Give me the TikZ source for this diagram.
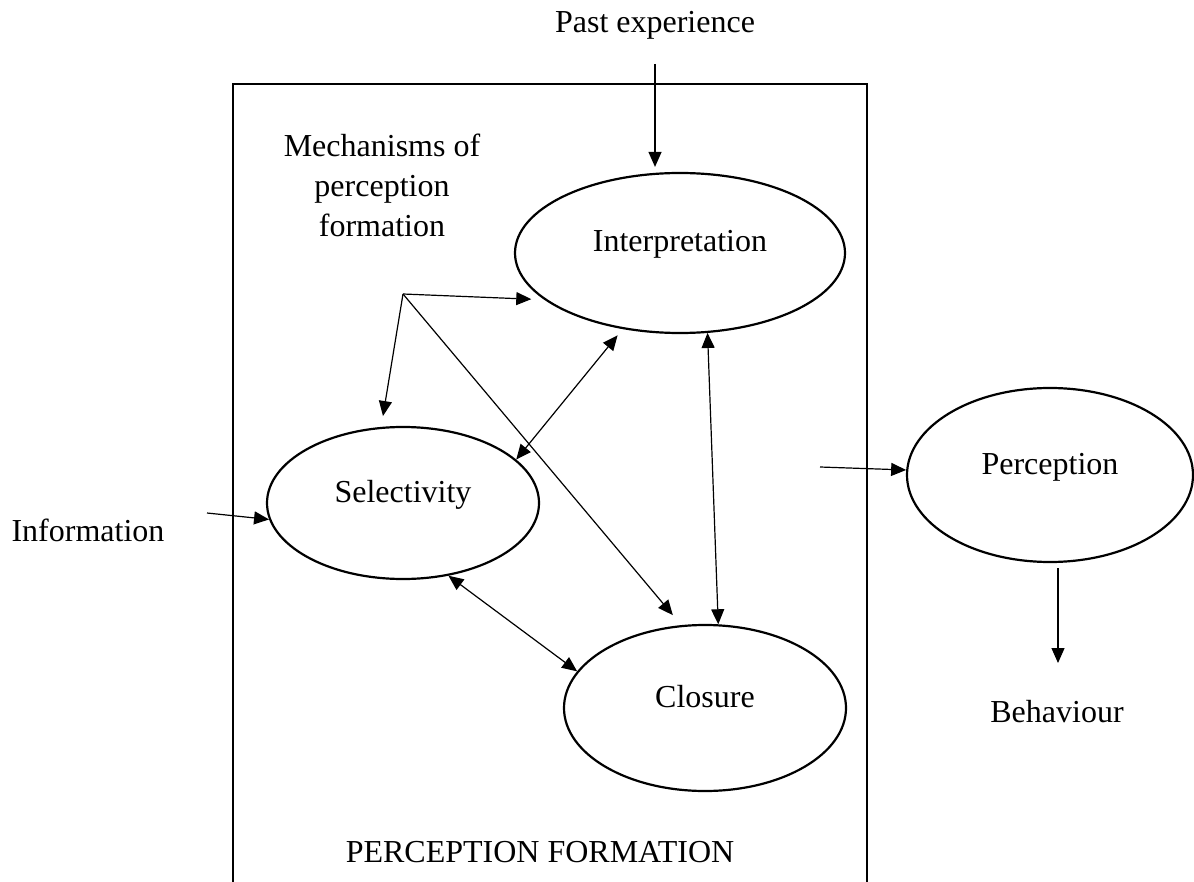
\documentclass[tikz,border=0pt]{standalone}
\usepackage{fontspec}
\setmainfont{Liberation Serif}
\usetikzlibrary{shapes.geometric,arrows.meta}
\begin{document}
\begin{tikzpicture}[x=0.5pt,y=-0.5pt,
  every node/.style={font=\fontsize{16pt}{20pt}\selectfont},
  stage/.style={ellipse, draw, line width=1.1pt, inner sep=0pt,
                text height=11pt, text depth=12pt},
  arr/.style={line width=0.6pt, -{Triangle[length=7.5pt,width=6.5pt]}},
  darr/.style={line width=0.6pt, {Triangle[length=7.5pt,width=6.5pt]}-{Triangle[length=7.5pt,width=6.5pt]}},
]
\useasboundingbox (0,0) rectangle (1194,882);

% frame of the perception formation stage (open at the bottom)
\draw[line width=1pt] (233,882) -- (233,84) -- (867,84) -- (867,882);

% mechanisms
\node[stage, minimum width=165pt, minimum height=80pt] (int) at (680,253) {Interpretation};
\node[stage, minimum width=136pt, minimum height=76pt] (sel) at (403,503) {Selectivity};
\node[stage, minimum width=141pt, minimum height=83pt] (clo) at (705,708) {Closure};
\node[stage, minimum width=143pt, minimum height=87pt] (per) at (1050,475) {Perception};

% labels
\node (past) at (655,25) {Past experience};
\node[align=center] (mech) at (382,185) {Mechanisms of\\perception\\formation};
\node (info) at (88,530) {Information};
\node (beh) at (1057,712) {Behaviour};
\node (pf) at (540,852) {PERCEPTION FORMATION};

% free ends of connectors
\coordinate (pe) at (655,64);
\coordinate (hub) at (403,294);
\coordinate (in0) at (207,513);
\coordinate (pc0) at (820,467);
\coordinate (btip) at (1058,663);

% connectors
\draw[arr, shorten >=2.5pt] (pe) -- (pe |- int.north);
\draw[arr, shorten >=6.5pt] (hub) -- (int.199);
\draw[arr, shorten >=5.5pt] (hub) -- (sel.106);
\draw[arr, shorten >=6.5pt] (hub) -- (clo.106);
\draw[darr, shorten >=4pt] (sel.21) -- (int.233);
\draw[darr] (int.-71) -- (clo.81);
\draw[darr] (sel.-58) -- (clo.164);
\draw[arr] (in0) -- (sel.187);
\draw[arr] (pc0) -- (per.178);
\draw[arr, shorten <=2.5pt] (per.south -| btip) -- (btip);
\end{tikzpicture}
\end{document}
